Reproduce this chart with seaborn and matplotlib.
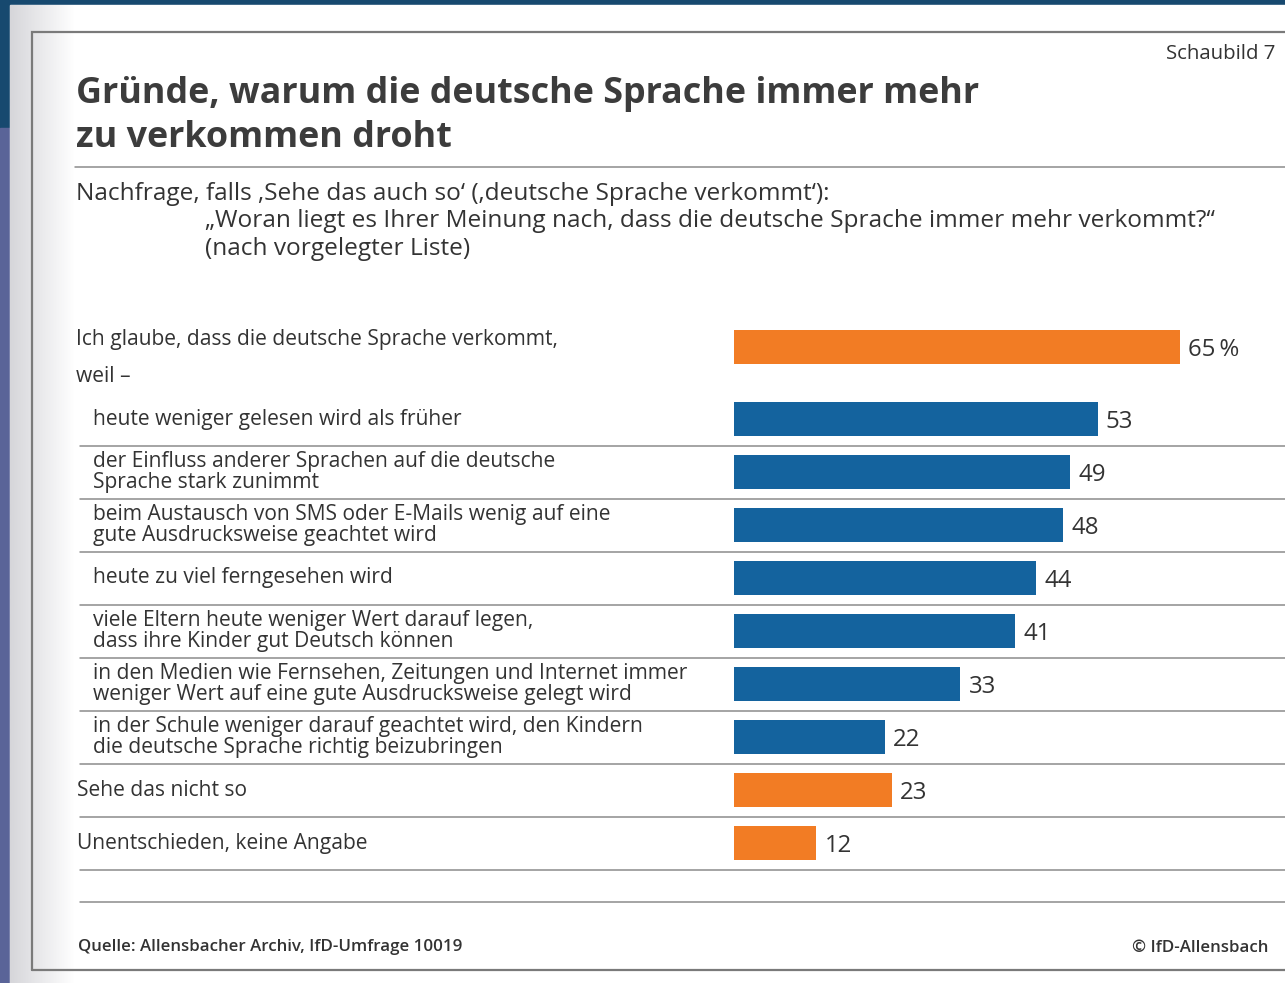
import numpy as np
import matplotlib
matplotlib.use("Agg")
import matplotlib.pyplot as plt
import matplotlib.transforms as mtransforms
import seaborn as sns
import pandas as pd

# ---------------- data ----------------
title_lines = ["Gründe, warum die deutsche Sprache immer mehr", "zu verkommen droht"]
subtitle_first = "Nachfrage, falls \u201aSehe das auch so\u2018 (\u201adeutsche Sprache verkommt\u2018):"
subtitle_rest = ["\u201eWoran liegt es Ihrer Meinung nach, dass die deutsche Sprache immer mehr verkommt?\u201c",
                 "(nach vorgelegter Liste)"]
chart_no = "Schaubild 7"
source = "Quelle: Allensbacher Archiv, IfD-Umfrage 10019"
copyright_txt = "\u00a9 IfD-Allensbach"

top_label = "Ich glaube, dass die deutsche Sprache verkommt,"
top_sub = "weil \u2013"
top_value = 65

reason_labels = [
    "heute weniger gelesen wird als früher",
    "der Einfluss anderer Sprachen auf die deutsche\nSprache stark zunimmt",
    "beim Austausch von SMS oder E-Mails wenig auf eine\ngute Ausdrucksweise geachtet wird",
    "heute zu viel ferngesehen wird",
    "viele Eltern heute weniger Wert darauf legen,\ndass ihre Kinder gut Deutsch können",
    "in den Medien wie Fernsehen, Zeitungen und Internet immer\nweniger Wert auf eine gute Ausdrucksweise gelegt wird",
    "in der Schule weniger darauf geachtet wird, den Kindern\ndie deutsche Sprache richtig beizubringen",
]
reason_values = [53, 49, 48, 44, 41, 33, 22]
other_labels = ["Sehe das nicht so", "Unentschieden, keine Angabe"]
other_values = [23, 12]

# ---------------- style ----------------
sns.set_theme(style="white")
FONT = ["Open Sans", "DejaVu Sans"]
plt.rcParams["font.family"] = FONT
TXT = "#333333"
ORANGE = "#F27C24"
BLUE = "#14639E"
LINE = "#8c8c8c"

W, H = 1285, 983
fig = plt.figure(figsize=(W / 100, H / 100), dpi=100)

# background / page axes in pixel coordinates
bg = fig.add_axes([0, 0, 1, 1], zorder=0)
bg.axis("off")
fig.patch.set_facecolor("#17496F")
bg.add_patch(plt.Rectangle((0, 128), 10, H, color="#5a6498", zorder=0))
bg.add_patch(plt.Rectangle((10, 5), W, H, color="white", zorder=0.5))
grad = np.linspace(0, 1, 64)[None, :]
bg.imshow(grad, extent=[10, 75, H, 5], cmap=matplotlib.colors.LinearSegmentedColormap.from_list(
    "p", ["#d6d6da", "#ffffff"]), aspect="auto", zorder=0.6)
bg.set_xlim(0, W)
bg.set_ylim(H, 0)

# frame
bg.plot([32, 32, W + 5], [970, 32, 32], color="#7a7a7a", lw=1.6, zorder=2, solid_joinstyle="miter")
bg.plot([32, W + 5], [970, 970], color="#7a7a7a", lw=1.6, zorder=2)

# titles
bg.text(76, 94, title_lines[0], fontsize=25.8, fontweight="bold", color="#3c3c3c", va="center", ha="left")
bg.text(76, 138, title_lines[1], fontsize=25.8, fontweight="bold", color="#3c3c3c", va="center", ha="left")
bg.plot([75, W], [167, 167], color=LINE, lw=1.1)
bg.text(1275, 54, chart_no, fontsize=14.7, color=TXT, va="center", ha="right")
SUB_FS = 17.6
bg.text(76, 194, subtitle_first, fontsize=SUB_FS, color=TXT, va="center", ha="left")
bg.text(205, 221, subtitle_rest[0], fontsize=SUB_FS, color=TXT, va="center", ha="left")
bg.text(205, 249, subtitle_rest[1], fontsize=SUB_FS, color=TXT, va="center", ha="left")

bg.text(78, 947, source, fontsize=12.2, color=TXT, va="center", ha="left", fontweight="semibold")
bg.text(1268, 948, copyright_txt, fontsize=12.2, color=TXT, va="center", ha="right", fontweight="semibold")

# ---------------- bar axes ----------------
X0 = 734          # px where bars start
PX_PER_UNIT = 6.86
XMAX = (W - X0) / PX_PER_UNIT
ROW = 53
BAR_FRAC = 34 / ROW


def add_axes_px(left, top, right, bottom):
    return fig.add_axes([left / W, 1 - bottom / H, (right - left) / W, (bottom - top) / H], zorder=3)


# top bar
top_center = 347
ax1 = add_axes_px(X0, top_center - ROW / 2, W, top_center + ROW / 2)
df1 = pd.DataFrame({"label": [top_label], "value": [top_value]})
sns.barplot(data=df1, y="label", x="value", color=ORANGE, width=BAR_FRAC, ax=ax1,
            saturation=1, orient="h")

# main bars
first_center = 419
all_labels = reason_labels + other_labels
all_values = reason_values + other_values
groups = ["reason"] * len(reason_labels) + ["other"] * len(other_labels)
n = len(all_labels)
ax2 = add_axes_px(X0, first_center - ROW / 2, W, first_center + (n - 1) * ROW + ROW / 2)
df2 = pd.DataFrame({"label": all_labels, "value": all_values, "group": groups})
sns.barplot(data=df2, y="label", x="value", hue="group", palette={"reason": BLUE, "other": ORANGE},
            dodge=False, width=BAR_FRAC, ax=ax2, saturation=1, legend=False, orient="h")

for ax in (ax1, ax2):
    ax.set_xlim(0, XMAX)
    ax.patch.set_alpha(0)
    ax.set_xlabel("")
    ax.set_ylabel("")
    ax.set_xticks([])
    ax.set_yticks([])
    for s in ax.spines.values():
        s.set_visible(False)
    for p in ax.patches:
        p.set_linewidth(0)

ax1.set_ylim(0.5, -0.5)
ax2.set_ylim(n - 0.5, -0.5)

# value labels (baseline placed so digits are centred on the bar)
VAL_FS = 17.3
DIG_OFF = -0.36 * VAL_FS
for p in ax1.patches:
    w = p.get_width()
    ax1.annotate(f"{w:.0f}\u2009%", xy=(w, p.get_y() + p.get_height() / 2), xytext=(6, DIG_OFF),
                 textcoords="offset points", va="baseline", ha="left", fontsize=VAL_FS, color=TXT)
for p in ax2.patches:
    w = p.get_width()
    if not np.isfinite(w) or w == 0:
        continue
    ax2.annotate(f"{w:.0f}", xy=(w, p.get_y() + p.get_height() / 2), xytext=(6, DIG_OFF),
                 textcoords="offset points", va="baseline", ha="left", fontsize=VAL_FS, color=TXT)

# category labels (left aligned, in page pixel x, data y)
LAB_FS = 15.1
bg.text(76, 340, top_label, fontsize=LAB_FS, color=TXT, va="center", ha="left")
bg.text(76, 377, top_sub, fontsize=LAB_FS, color=TXT, va="center", ha="left")

tr2 = mtransforms.blended_transform_factory(bg.transData, ax2.transData)
for i, lab in enumerate(all_labels):
    x = 93 if i < len(reason_labels) else 77
    bg.text(x, i, lab, transform=tr2, fontsize=LAB_FS, color=TXT, va="center", ha="left",
            linespacing=1.04)

# separator lines between rows
for i in range(n):
    bg.plot([80, W], [i + 0.5, i + 0.5], transform=tr2, color=LINE, lw=1.1, zorder=2)
bg.plot([80, W], [902, 902], color=LINE, lw=1.1, zorder=2)

fig.savefig("out.png", dpi=100)
